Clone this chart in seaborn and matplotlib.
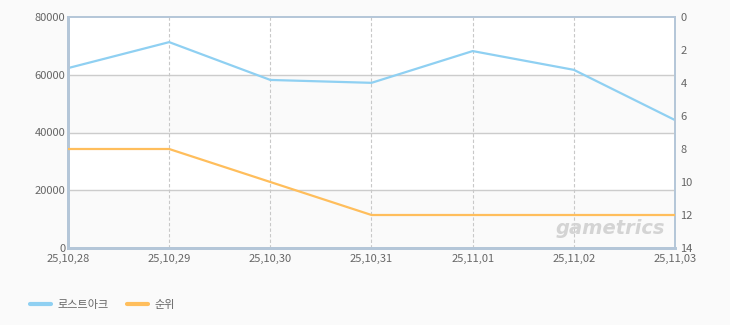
import matplotlib
matplotlib.use("Agg")
import matplotlib.pyplot as plt
import seaborn as sns
import pandas as pd
import numpy as np
from matplotlib.lines import Line2D

dates = ["25,10,28", "25,10,29", "25,10,30", "25,10,31", "25,11,01", "25,11,02", "25,11,03"]
users = [62300, 71300, 58200, 57200, 68200, 61700, 44300]
rank = [8, 8, 10, 12, 12, 12, 12]
left_ticks = [0, 20000, 40000, 60000, 80000]
right_ticks = [0, 2, 4, 6, 8, 10, 12, 14]
series_names = ["로스트아크", "순위"]

sns.set_theme(style="white")
plt.rcParams['font.family'] = ['Noto Sans CJK KR', 'DejaVu Sans']

blue = "#8fd0f2"
orange = "#ffbe5c"
spine_c = "#b4c6d8"
text_c = "#666666"

df = pd.DataFrame({"x": np.arange(len(dates)), "users": users, "rank": rank})

fig = plt.figure(figsize=(7.3, 3.25), dpi=100, facecolor="#fafafa")
ax = fig.add_axes([68/730, 77/325, (675-68)/730, (248-17)/325])
ax.set_facecolor("white")

# alternating bands
for i in range(len(left_ticks) - 1):
    if i % 2 == 0:
        ax.axhspan(left_ticks[i], left_ticks[i+1], color="#fafafa", zorder=0)

for y in left_ticks[1:-1]:
    ax.axhline(y, color="#cccccc", lw=1, zorder=1)
for x in df["x"][1:-1]:
    ax.axvline(x, color="#c8c8c8", lw=0.8, ls=(0, (3, 2)), zorder=1)

sns.lineplot(data=df, x="x", y="users", ax=ax, color=blue, lw=1.6, zorder=3)
ax.set_xlim(0, len(dates) - 1)
ax.set_ylim(0, 80000)
ax.set_yticks(left_ticks)
ax.set_yticklabels([str(v) for v in left_ticks])
ax.set_xticks(df["x"])
ax.set_xticklabels(dates)
ax.set_xlabel("")
ax.set_ylabel("")
ax.tick_params(axis="x", labelsize=8, colors=text_c, length=0, pad=4)
ax.tick_params(axis="y", labelsize=8, colors=text_c, length=0, pad=2)

ax2 = ax.twinx()
sns.lineplot(data=df, x="x", y="rank", ax=ax2, color=orange, lw=1.6, zorder=3)
ax2.set_ylim(14, 0)
ax2.set_yticks(right_ticks)
ax2.set_yticklabels([str(v) for v in right_ticks])
ax2.set_ylabel("")
ax2.tick_params(axis="y", labelsize=8, colors=text_c, length=0, pad=4)

for a in (ax, ax2):
    for s in a.spines.values():
        s.set_color(spine_c)
        s.set_linewidth(1.2)
ax.spines["left"].set_linewidth(2)
ax.spines["bottom"].set_linewidth(2)
ax2.spines["left"].set_linewidth(2)
ax2.spines["bottom"].set_linewidth(2)

ax2.text(0.983, 0.045, "gametrics", transform=ax.transAxes, ha="right", va="bottom",
         fontsize=14, fontstyle="italic", fontweight="bold", color="#d4d4d4",
         family=["DejaVu Sans"], zorder=2)

handles = [Line2D([], [], color=blue, lw=3), Line2D([], [], color=orange, lw=3)]
fig.legend(handles, series_names, loc="lower left", bbox_to_anchor=(20/730, 5/325),
           ncol=2, frameon=False, fontsize=8, handlelength=1.9, columnspacing=1.6,
           labelcolor=text_c, handletextpad=0.6)

fig.savefig("out.png", dpi=100, facecolor=fig.get_facecolor())
